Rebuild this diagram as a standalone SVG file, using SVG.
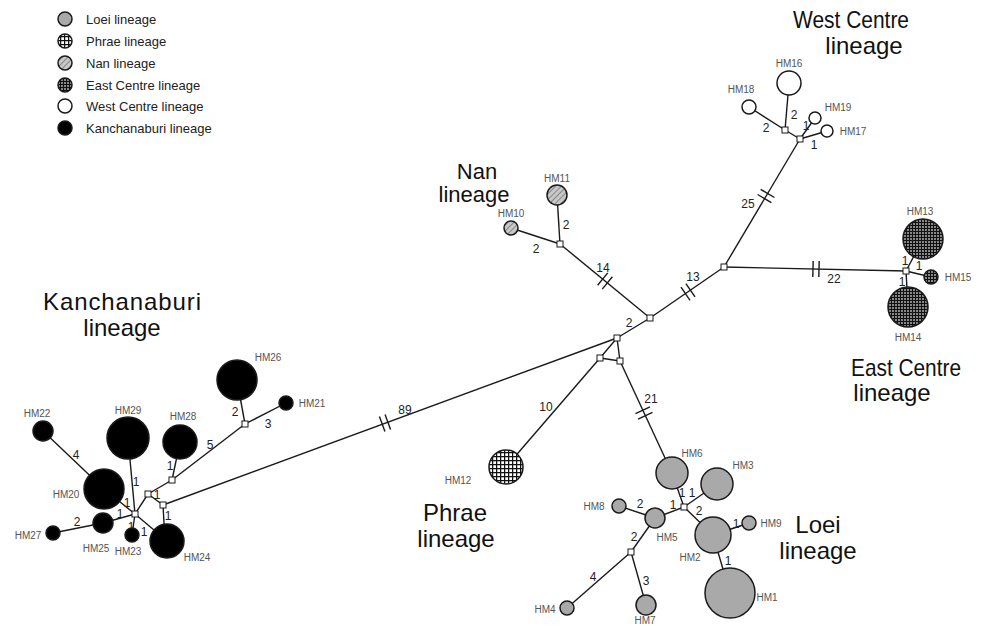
<svg xmlns="http://www.w3.org/2000/svg" width="982" height="626" viewBox="0 0 982 626">
<style>
.e{stroke:#1a1a1a;stroke-width:1.4;fill:none}
.h{stroke:#1a1a1a;stroke-width:1.4}
.n{fill:#fff;stroke:#1a1a1a;stroke-width:1}
.c{stroke:#1a1a1a;stroke-width:1.5}
.loei{fill:#a9a9a9}
.phrae{fill:url(#pPhrae)}
.nan{fill:url(#pNan)}
.ec{fill:url(#pEC)}
.wc{fill:#fff}
.kb{fill:#000}
.lb{font-family:"Liberation Sans",Arial,sans-serif;font-size:10px;fill:#555}
.num{font-family:"Liberation Sans",Arial,sans-serif;font-size:12px;fill:#222;text-anchor:middle}
.tt{font-family:"Liberation Sans",Arial,sans-serif;font-size:24px;fill:#111;text-anchor:middle}
.lg{font-family:"Liberation Sans",Arial,sans-serif;font-size:13px;fill:#222}
</style>
<defs>
<pattern id="pPhrae" width="4" height="4" patternUnits="userSpaceOnUse">
<rect width="4" height="4" fill="#fff"/>
<path d="M0 0.6H4M0.6 0V4" stroke="#111" stroke-width="1.3"/>
</pattern>
<pattern id="pEC" width="3" height="3" patternUnits="userSpaceOnUse">
<rect width="3" height="3" fill="#888"/>
<path d="M0 0.5H3M0.5 0V3" stroke="#111" stroke-width="1"/>
</pattern>
<pattern id="pNan" width="4" height="4" patternUnits="userSpaceOnUse" patternTransform="rotate(-45)">
<rect width="4" height="4" fill="#c8c8c8"/>
<path d="M0 0.5H4" stroke="#888" stroke-width="1"/>
</pattern>
<g id="hash"><line x1="-3" y1="-8" x2="-3" y2="8" class="h"/><line x1="3" y1="-8" x2="3" y2="8" class="h"/></g>
</defs>

<g id="legend">
<circle cx="65" cy="19" r="7" class="c loei"/><text x="86" y="23.5" class="lg">Loei lineage</text>
<circle cx="65" cy="41" r="7" class="c phrae"/><text x="86" y="45.5" class="lg">Phrae lineage</text>
<circle cx="65" cy="63" r="7" class="c nan"/><text x="86" y="67.5" class="lg">Nan lineage</text>
<circle cx="65" cy="85" r="7" class="c ec"/><text x="86" y="89.5" class="lg">East Centre lineage</text>
<circle cx="65" cy="106" r="7" class="c wc"/><text x="86" y="110.5" class="lg">West Centre lineage</text>
<circle cx="65" cy="128" r="7" class="c kb"/><text x="86" y="132.5" class="lg">Kanchanaburi lineage</text>
</g>

<g id="titles">
<text x="851" y="28" class="tt" textLength="116" lengthAdjust="spacingAndGlyphs">West Centre</text>
<text x="864" y="54" class="tt">lineage</text>
<text x="477" y="179" class="tt" style="font-size:22px">Nan</text>
<text x="474" y="202" class="tt" style="font-size:22px">lineage</text>
<text x="122" y="310" class="tt" textLength="158">Kanchanaburi</text>
<text x="122" y="336" class="tt">lineage</text>
<text x="906" y="376" class="tt" textLength="110" lengthAdjust="spacingAndGlyphs">East Centre</text>
<text x="892" y="401" class="tt">lineage</text>
<text x="455" y="521" class="tt">Phrae</text>
<text x="456" y="547" class="tt">lineage</text>
<text x="818" y="533" class="tt">Loei</text>
<text x="818" y="559" class="tt">lineage</text>
</g>

<g id="connectors">
<line x1="163" y1="505" x2="617" y2="338" class="e"/>
<line x1="617" y1="338" x2="650" y2="318" class="e"/>
<line x1="650" y1="318" x2="560" y2="244" class="e"/>
<line x1="650" y1="318" x2="724" y2="267" class="e"/>
<line x1="724" y1="267" x2="800" y2="139" class="e"/>
<line x1="724" y1="267" x2="906" y2="271" class="e"/>
<line x1="617" y1="338" x2="600" y2="358" class="e"/>
<line x1="617" y1="338" x2="620" y2="361" class="e"/>
<line x1="600" y1="358" x2="620" y2="361" class="e"/>
<line x1="600" y1="358" x2="506" y2="467" class="e"/>
<line x1="620" y1="361" x2="672" y2="473" class="e"/>
<line x1="560" y1="244" x2="511" y2="228" class="e"/>
<line x1="560" y1="244" x2="557" y2="195" class="e"/>
<line x1="785" y1="130" x2="789" y2="83" class="e"/>
<line x1="785" y1="130" x2="749" y2="107" class="e"/>
<line x1="785" y1="130" x2="800" y2="139" class="e"/>
<line x1="800" y1="139" x2="815" y2="118" class="e"/>
<line x1="800" y1="139" x2="827" y2="131" class="e"/>
<line x1="906" y1="271" x2="923" y2="239" class="e"/>
<line x1="906" y1="271" x2="908" y2="307" class="e"/>
<line x1="906" y1="271" x2="931" y2="277" class="e"/>
<line x1="43" y1="431" x2="104" y2="489" class="e"/>
<line x1="104" y1="489" x2="135" y2="514" class="e"/>
<line x1="128" y1="438" x2="135" y2="514" class="e"/>
<line x1="103" y1="523" x2="135" y2="514" class="e"/>
<line x1="53" y1="533" x2="103" y2="523" class="e"/>
<line x1="132" y1="535" x2="135" y2="514" class="e"/>
<line x1="167" y1="541" x2="135" y2="514" class="e"/>
<line x1="135" y1="514" x2="148" y2="494" class="e"/>
<line x1="148" y1="494" x2="172" y2="480" class="e"/>
<line x1="148" y1="494" x2="163" y2="505" class="e"/>
<line x1="163" y1="505" x2="165" y2="541" class="e"/>
<line x1="172" y1="480" x2="180" y2="442" class="e"/>
<line x1="172" y1="480" x2="245" y2="424" class="e"/>
<line x1="245" y1="424" x2="237" y2="380" class="e"/>
<line x1="245" y1="424" x2="286" y2="403" class="e"/>
<line x1="619" y1="506" x2="655" y2="518" class="e"/>
<line x1="655" y1="518" x2="684" y2="507" class="e"/>
<line x1="684" y1="507" x2="672" y2="473" class="e"/>
<line x1="684" y1="507" x2="717" y2="484" class="e"/>
<line x1="684" y1="507" x2="713" y2="535" class="e"/>
<line x1="713" y1="535" x2="749" y2="523" class="e"/>
<line x1="713" y1="535" x2="730" y2="593" class="e"/>
<line x1="655" y1="518" x2="631" y2="552" class="e"/>
<line x1="631" y1="552" x2="567" y2="608" class="e"/>
<line x1="631" y1="552" x2="646" y2="605" class="e"/>
<use href="#hash" transform="translate(385,423) rotate(-20.2)"/>
<use href="#hash" transform="translate(605,281) rotate(39.4)"/>
<use href="#hash" transform="translate(688,292) rotate(-34.6)"/>
<use href="#hash" transform="translate(766,196) rotate(-59.3)"/>
<use href="#hash" transform="translate(816,269) rotate(1.3)"/>
<use href="#hash" transform="translate(644,413) rotate(65)"/>
<g class="num">
<text x="405" y="414">89</text>
<text x="603" y="272">14</text>
<text x="693" y="281">13</text>
<text x="748" y="208">25</text>
<text x="834" y="283">22</text>
<text x="651" y="403">21</text>
<text x="546" y="411">10</text>
<text x="629" y="327">2</text>
<text x="536" y="253">2</text>
<text x="566" y="229">2</text>
<text x="794" y="119">2</text>
<text x="766" y="132">2</text>
<text x="806" y="130">1</text>
<text x="814" y="149">1</text>
<text x="905" y="265">1</text>
<text x="919" y="270">1</text>
<text x="902" y="286">1</text>
<text x="76" y="459">4</text>
<text x="127" y="507">1</text>
<text x="136" y="486">1</text>
<text x="120" y="518">1</text>
<text x="77" y="526">2</text>
<text x="131" y="531">1</text>
<text x="144" y="536">1</text>
<text x="157" y="499">1</text>
<text x="168" y="520">1</text>
<text x="170" y="470">1</text>
<text x="210" y="449">5</text>
<text x="235" y="416">2</text>
<text x="268" y="428">3</text>
<text x="640" y="508">2</text>
<text x="673" y="509">1</text>
<text x="682" y="497">1</text>
<text x="692" y="497">1</text>
<text x="699" y="515">2</text>
<text x="736" y="528">1</text>
<text x="728" y="565">1</text>
<text x="634" y="541">2</text>
<text x="593" y="581">4</text>
<text x="646" y="585">3</text>
</g>
</g>

<g id="junctions">
<rect x="647" y="315" width="6" height="6" class="n"/>
<rect x="614" y="335" width="6" height="6" class="n"/>
<rect x="597" y="355" width="6" height="6" class="n"/>
<rect x="617" y="358" width="6" height="6" class="n"/>
<rect x="721" y="264" width="6" height="6" class="n"/>
<rect x="557" y="241" width="6" height="6" class="n"/>
<rect x="782" y="127" width="6" height="6" class="n"/>
<rect x="797" y="136" width="6" height="6" class="n"/>
<rect x="903" y="268" width="6" height="6" class="n"/>
<rect x="132" y="511" width="6" height="6" class="n"/>
<rect x="145" y="491" width="6" height="6" class="n"/>
<rect x="169" y="477" width="6" height="6" class="n"/>
<rect x="160" y="502" width="6" height="6" class="n"/>
<rect x="242" y="421" width="6" height="6" class="n"/>
<rect x="681" y="504" width="6" height="6" class="n"/>
<rect x="628" y="549" width="6" height="6" class="n"/>
</g>

<g id="HM1"><circle cx="730" cy="593" r="25" class="c loei"/><text x="767" y="601" class="lb" text-anchor="middle">HM1</text></g>
<g id="HM2"><circle cx="713" cy="535" r="18" class="c loei"/><text x="690" y="561" class="lb" text-anchor="middle">HM2</text></g>
<g id="HM3"><circle cx="717" cy="484" r="16" class="c loei"/><text x="743" y="469" class="lb" text-anchor="middle">HM3</text></g>
<g id="HM4"><circle cx="567" cy="608" r="7" class="c loei"/><text x="545" y="613" class="lb" text-anchor="middle">HM4</text></g>
<g id="HM5"><circle cx="655" cy="518" r="10" class="c loei"/><text x="667" y="541" class="lb" text-anchor="middle">HM5</text></g>
<g id="HM6"><circle cx="672" cy="473" r="16" class="c loei"/><text x="692" y="457" class="lb" text-anchor="middle">HM6</text></g>
<g id="HM7"><circle cx="646" cy="605" r="10" class="c loei"/><text x="645" y="624" class="lb" text-anchor="middle">HM7</text></g>
<g id="HM8"><circle cx="619" cy="506" r="7" class="c loei"/><text x="594" y="510" class="lb" text-anchor="middle">HM8</text></g>
<g id="HM9"><circle cx="749" cy="523" r="7" class="c loei"/><text x="771" y="527" class="lb" text-anchor="middle">HM9</text></g>
<g id="HM10"><circle cx="511" cy="228" r="7" class="c nan"/><text x="511" y="217" class="lb" text-anchor="middle">HM10</text></g>
<g id="HM11"><circle cx="557" cy="195" r="10" class="c nan"/><text x="557" y="182" class="lb" text-anchor="middle">HM11</text></g>
<g id="HM12"><circle cx="506" cy="467" r="17" class="c phrae"/><text x="458" y="484" class="lb" text-anchor="middle">HM12</text></g>
<g id="HM13"><circle cx="923" cy="239" r="20" class="c ec"/><text x="920" y="215" class="lb" text-anchor="middle">HM13</text></g>
<g id="HM14"><circle cx="908" cy="307" r="20" class="c ec"/><text x="908" y="341" class="lb" text-anchor="middle">HM14</text></g>
<g id="HM15"><circle cx="931" cy="277" r="7" class="c ec"/><text x="958" y="281" class="lb" text-anchor="middle">HM15</text></g>
<g id="HM16"><circle cx="789" cy="83" r="12" class="c wc"/><text x="789" y="67" class="lb" text-anchor="middle">HM16</text></g>
<g id="HM17"><circle cx="827" cy="131" r="6" class="c wc"/><text x="853" y="135" class="lb" text-anchor="middle">HM17</text></g>
<g id="HM18"><circle cx="749" cy="107" r="7" class="c wc"/><text x="741" y="93" class="lb" text-anchor="middle">HM18</text></g>
<g id="HM19"><circle cx="815" cy="118" r="6" class="c wc"/><text x="838" y="111" class="lb" text-anchor="middle">HM19</text></g>
<g id="HM20"><circle cx="104" cy="489" r="20" class="c kb"/><text x="66" y="498" class="lb" text-anchor="middle">HM20</text></g>
<g id="HM21"><circle cx="286" cy="403" r="7" class="c kb"/><text x="312" y="407" class="lb" text-anchor="middle">HM21</text></g>
<g id="HM22"><circle cx="43" cy="431" r="10" class="c kb"/><text x="37" y="417" class="lb" text-anchor="middle">HM22</text></g>
<g id="HM23"><circle cx="132" cy="535" r="7" class="c kb"/><text x="128" y="555" class="lb" text-anchor="middle">HM23</text></g>
<g id="HM24"><circle cx="167" cy="541" r="17" class="c kb"/><text x="197" y="561" class="lb" text-anchor="middle">HM24</text></g>
<g id="HM25"><circle cx="103" cy="523" r="10" class="c kb"/><text x="96" y="552" class="lb" text-anchor="middle">HM25</text></g>
<g id="HM26"><circle cx="237" cy="380" r="20" class="c kb"/><text x="268" y="361" class="lb" text-anchor="middle">HM26</text></g>
<g id="HM27"><circle cx="53" cy="533" r="7" class="c kb"/><text x="28" y="539" class="lb" text-anchor="middle">HM27</text></g>
<g id="HM28"><circle cx="180" cy="442" r="17" class="c kb"/><text x="183" y="420" class="lb" text-anchor="middle">HM28</text></g>
<g id="HM29"><circle cx="128" cy="438" r="21" class="c kb"/><text x="128" y="414" class="lb" text-anchor="middle">HM29</text></g>
</svg>
